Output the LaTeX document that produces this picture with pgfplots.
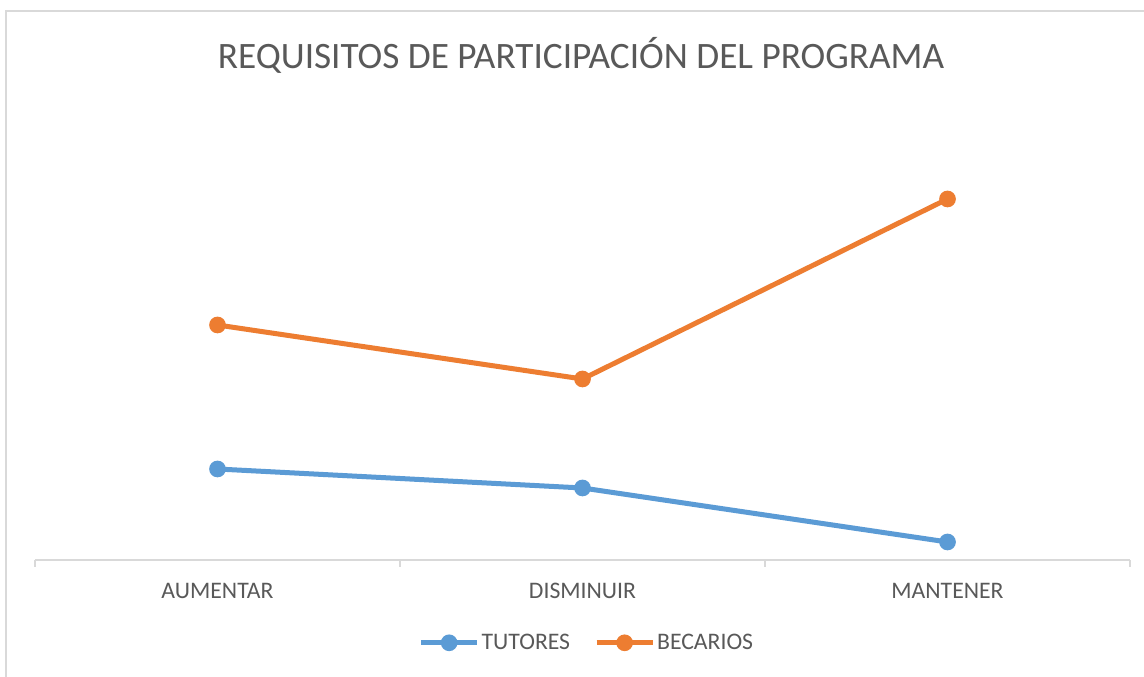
\documentclass[border=0pt]{standalone}
\usepackage{fontspec}
\setmainfont{Carlito}
\usepackage{pgfplots}
\pgfplotsset{compat=1.18}
\definecolor{tblue}{RGB}{91,155,213}
\definecolor{torange}{RGB}{237,125,49}
\definecolor{tgray}{RGB}{89,89,89}
\definecolor{lgray}{RGB}{217,217,217}
\begin{document}
\begin{tikzpicture}[x=1bp,y=1bp]
\useasboundingbox (0,0) rectangle (1144,677);
\fill[white] (0,0) rectangle (1144,677);
\draw[lgray, line width=1.5bp] (6,-2) -- (6,666) -- (1146,666);
\node[text=tgray, font=\fontsize{37.4}{44}\selectfont] at (581,622) {REQUISITOS DE PARTICIPACIÓN DEL PROGRAMA};
\begin{axis}[
  at={(35bp,117bp)}, anchor=south west,
  scale only axis, width=1095bp, height=460bp,
  xmin=-0.5, xmax=2.5, ymin=0, ymax=460,
  clip=false,
  axis y line=none,
  axis x line*=bottom,
  x axis line style={lgray, line width=1.3bp, -},
  xtick={0,1,2},
  xticklabels={AUMENTAR,DISMINUIR,MANTENER},
  major tick length=0pt,
  minor xtick={-0.5,0.5,1.5,2.5},
  minor tick length=7bp,
  tick align=outside,
  every tick/.style={lgray, line width=1.3bp},
  xticklabel style={anchor=center, yshift=-31bp, text=tgray, font=\fontsize{23.8}{28}\selectfont},
  legend columns=2,
  legend style={at={(0.504,-0.180)}, anchor=center, draw=none, fill=none,
    font=\fontsize{23.8}{28}\selectfont, text=tgray,
    /tikz/every even column/.append style={column sep=22bp},
    inner sep=0pt, cells={anchor=west}},
  legend image code/.code={\draw[mark repeat=2,mark phase=2,#1] plot coordinates {(0bp,0bp) (28bp,0bp) (56bp,0bp)};},
]
\addplot[tblue, line width=5bp, mark=*, mark size=5.8bp, mark options={solid}] coordinates {(0,91) (1,72) (2,18)};
\addlegendentry{TUTORES}
\addplot[torange, line width=5bp, mark=*, mark size=5.8bp, mark options={solid}] coordinates {(0,235) (1,181) (2,361)};
\addlegendentry{BECARIOS}
\end{axis}
\end{tikzpicture}
\end{document}
